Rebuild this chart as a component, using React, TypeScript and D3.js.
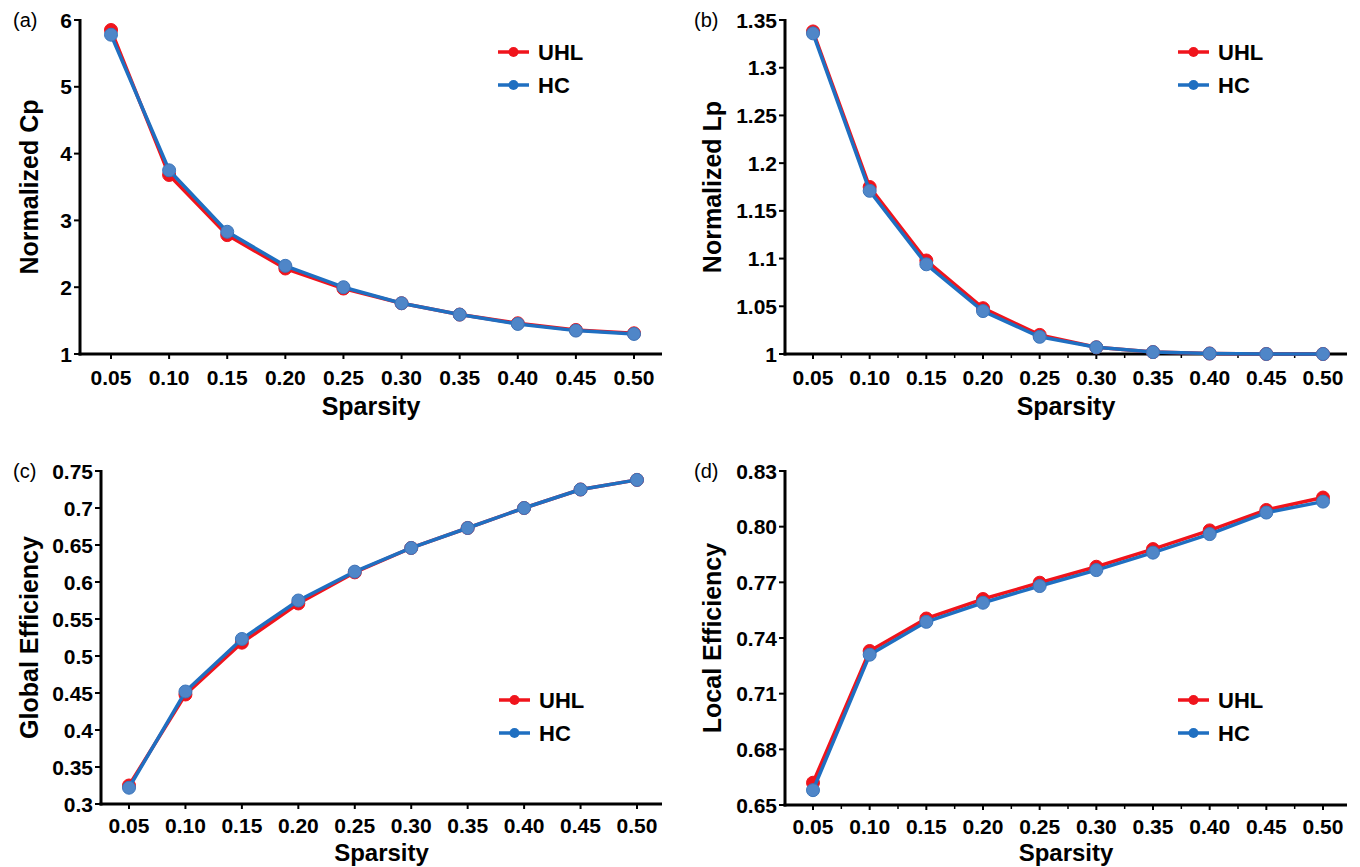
import * as d3 from 'd3';

// sparsity thresholds on the x axis
const sparsity = [0.05, 0.1, 0.15, 0.2, 0.25, 0.3, 0.35, 0.4, 0.45, 0.5];
const xTickLabels = ['0.05', '0.10', '0.15', '0.20', '0.25', '0.30', '0.35', '0.40', '0.45', '0.50'];

// (a) normalized clustering coefficient
const cpUHL = [5.85, 3.68, 2.78, 2.28, 1.98, 1.76, 1.59, 1.46, 1.36, 1.31];
const cpHC = [5.78, 3.75, 2.83, 2.32, 2.0, 1.76, 1.59, 1.45, 1.35, 1.3];
const cpTicks = [1, 2, 3, 4, 5, 6];
const cpTickLabels = ['1', '2', '3', '4', '5', '6'];

// (b) normalized path length
const lpUHL = [1.338, 1.175, 1.098, 1.048, 1.02, 1.007, 1.002, 1.0005, 1.0, 1.0];
const lpHC = [1.336, 1.171, 1.094, 1.045, 1.018, 1.007, 1.002, 1.0005, 1.0, 1.0];
const lpTicks = [1, 1.05, 1.1, 1.15, 1.2, 1.25, 1.3, 1.35];
const lpTickLabels = ['1', '1.05', '1.1', '1.15', '1.2', '1.25', '1.3', '1.35'];

// (c) global efficiency
const geUHL = [0.325, 0.448, 0.518, 0.571, 0.613, 0.646, 0.673, 0.7, 0.725, 0.738];
const geHC = [0.322, 0.452, 0.523, 0.575, 0.614, 0.646, 0.673, 0.7, 0.725, 0.738];
const geTicks = [0.3, 0.35, 0.4, 0.45, 0.5, 0.55, 0.6, 0.65, 0.7, 0.75];
const geTickLabels = ['0.3', '0.35', '0.4', '0.45', '0.5', '0.55', '0.6', '0.65', '0.7', '0.75'];

// (d) local efficiency
const leUHL = [0.662, 0.733, 0.7505, 0.761, 0.7698, 0.7784, 0.7879, 0.798, 0.809, 0.8157];
const leHC = [0.658, 0.731, 0.7487, 0.759, 0.768, 0.7766, 0.786, 0.796, 0.8076, 0.8135];
const leTicks = [0.65, 0.68, 0.71, 0.74, 0.77, 0.8, 0.83];
const leTickLabels = ['0.65', '0.68', '0.71', '0.74', '0.77', '0.80', '0.83'];

const seriesNames = ['UHL', 'HC'];

const RED = '#f0141c';
const BLUE_LINE = '#1f6fc1';
const BLUE_DOT = '#4f86c8';
const FONT = '"Liberation Sans", Arial, sans-serif';

type Panel = {
  tag: string;
  yTitle: string;
  uhl: number[];
  hc: number[];
  yTicks: number[];
  yTickLabels: string[];
  left: number;
  right: number;
  top: number;
  bottom: number;
  x0: number;
  x1: number;
  minor: boolean;
  legendY: number;
  legendX: number;
  titleX: number;
  tagX: number;
  xTickDy: number;
  xTitleDy: number;
  xTitleSize: number;
};

const panels: Panel[] = [
  {
    tag: '(a)', yTitle: 'Normalized Cp', uhl: cpUHL, hc: cpHC, yTicks: cpTicks, yTickLabels: cpTickLabels,
    left: 80, right: 662, top: 20, bottom: 354, x0: 111, x1: 634, minor: false,
    legendX: 498, legendY: 52, titleX: 29, tagX: 13, xTickDy: 31, xTitleDy: 61, xTitleSize: 25,
  },
  {
    tag: '(b)', yTitle: 'Normalized Lp', uhl: lpUHL, hc: lpHC, yTicks: lpTicks, yTickLabels: lpTickLabels,
    left: 785, right: 1347, top: 20, bottom: 354, x0: 813, x1: 1323, minor: true,
    legendX: 1178, legendY: 52, titleX: 712, tagX: 694, xTickDy: 31, xTitleDy: 61, xTitleSize: 25,
  },
  {
    tag: '(c)', yTitle: 'Global Efficiency', uhl: geUHL, hc: geHC, yTicks: geTicks, yTickLabels: geTickLabels,
    left: 101, right: 662, top: 471, bottom: 804, x0: 129, x1: 637, minor: false,
    legendX: 499, legendY: 700, titleX: 29, tagX: 13, xTickDy: 29, xTitleDy: 57, xTitleSize: 24,
  },
  {
    tag: '(d)', yTitle: 'Local Efficiency', uhl: leUHL, hc: leHC, yTicks: leTicks, yTickLabels: leTickLabels,
    left: 785, right: 1347, top: 471, bottom: 805, x0: 813, x1: 1323, minor: true,
    legendX: 1178, legendY: 700, titleX: 712, tagX: 694, xTickDy: 29, xTitleDy: 56, xTitleSize: 24,
  },
];

function ChartPanel({ p }: { p: Panel }) {
  const x = d3.scaleLinear().domain([0.05, 0.5]).range([p.x0, p.x1]);
  const yMin = p.yTicks[0];
  const yMax = p.yTicks[p.yTicks.length - 1];
  const y = d3.scaleLinear().domain([yMin, yMax]).range([p.bottom, p.top]);
  const line = d3
    .line<number>()
    .x((_, i) => x(sparsity[i]))
    .y((d) => y(d));
  const minorTicks = p.minor ? sparsity.slice(0, -1).map((s) => s + 0.025) : [];
  const series = [
    { name: seriesNames[0], values: p.uhl, line: RED, dot: RED, stroke: RED },
    { name: seriesNames[1], values: p.hc, line: BLUE_LINE, dot: BLUE_DOT, stroke: '#3c76bb' },
  ];
  const midY = (p.top + p.bottom) / 2;

  return (
    <g>
      {/* axes */}
      <line x1={p.left} x2={p.left} y1={p.top - 1} y2={p.bottom + 1.5} stroke="#000" strokeWidth={3} />
      <line x1={p.left - 1.5} x2={p.right} y1={p.bottom} y2={p.bottom} stroke="#000" strokeWidth={3} />
      {p.yTicks.map((t, i) => (
        <g key={'yt' + i}>
          <line x1={p.left - 6} x2={p.left} y1={y(t)} y2={y(t)} stroke="#000" strokeWidth={2} />
          <text x={p.left - 8} y={y(t)} dy="0.36em" textAnchor="end" fontSize={21} fontWeight="bold" fontFamily={FONT}>
            {p.yTickLabels[i]}
          </text>
        </g>
      ))}
      {sparsity.map((s, i) => (
        <g key={'xt' + i}>
          <line x1={x(s)} x2={x(s)} y1={p.bottom} y2={p.bottom + 5} stroke="#000" strokeWidth={2} />
          <text x={x(s)} y={p.bottom + p.xTickDy} textAnchor="middle" fontSize={21} fontWeight="bold" fontFamily={FONT}>
            {xTickLabels[i]}
          </text>
        </g>
      ))}
      {minorTicks.map((s, i) => (
        <line key={'mt' + i} x1={x(s)} x2={x(s)} y1={p.bottom} y2={p.bottom + 4} stroke="#000" strokeWidth={1.5} />
      ))}
      <text
        x={(p.left + p.right) / 2}
        y={p.bottom + p.xTitleDy}
        textAnchor="middle"
        fontSize={p.xTitleSize}
        fontWeight="bold"
        fontFamily={FONT}
      >
        Sparsity
      </text>
      <text
        transform={`translate(${p.titleX},${midY}) rotate(-90)`}
        textAnchor="middle"
        dy="0.36em"
        fontSize={25}
        fontWeight="bold"
        fontFamily={FONT}
      >
        {p.yTitle}
      </text>
      <text x={p.tagX} y={p.top + 7} fontSize={20} fontFamily={FONT}>
        {p.tag}
      </text>

      {/* series */}
      {series.map((s) => (
        <g key={s.name}>
          <path d={line(s.values) || ''} fill="none" stroke={s.line} strokeWidth={3.5} strokeLinejoin="round" />
          {s.values.map((v, i) => (
            <circle key={i} cx={x(sparsity[i])} cy={y(v)} r={6.5} fill={s.dot} stroke={s.stroke} strokeWidth={1} />
          ))}
        </g>
      ))}

      {/* legend */}
      {series.map((s, i) => {
        const ly = p.legendY + i * 33;
        return (
          <g key={'lg' + s.name}>
            <line x1={p.legendX} x2={p.legendX + 31} y1={ly} y2={ly} stroke={s.line} strokeWidth={3.5} />
            <circle cx={p.legendX + 15.5} cy={ly} r={5} fill={s.line} />
            <text x={p.legendX + 40} y={ly} dy="0.36em" fontSize={22} fontWeight="bold" fontFamily={FONT}>
              {s.name}
            </text>
          </g>
        );
      })}
    </g>
  );
}

export default function App() {
  return (
    <svg width={1360} height={867} style={{ display: 'block', position: 'absolute', left: 0, top: 0, background: '#fff' }}>
      <rect width={1360} height={867} fill="#fff" />
      {panels.map((p) => (
        <ChartPanel key={p.tag} p={p} />
      ))}
    </svg>
  );
}
